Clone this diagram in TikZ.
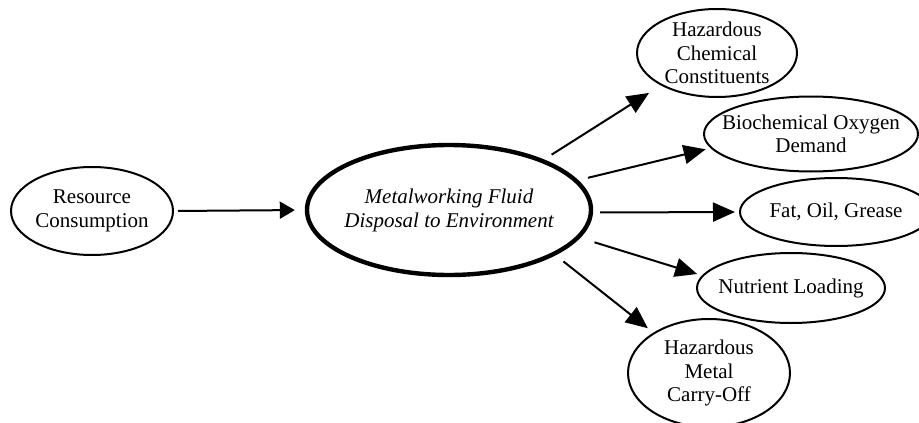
\documentclass[tikz,border=0pt]{standalone}
\usepackage{fontspec}
\setmainfont{Liberation Serif}
\usetikzlibrary{shapes.geometric,arrows.meta}
\begin{document}
\begin{tikzpicture}[x=1pt,y=-1pt,
  oval/.style={ellipse,draw,line width=2pt,inner xsep=-40pt,inner ysep=-20pt,align=center,
    font=\fontsize{21}{23.5}\selectfont},
  mainoval/.style={oval,line width=4.4pt,font=\fontsize{21}{24}\selectfont\itshape},
  arr/.style={line width=2pt,-{Triangle[length=22pt,width=19pt]}}]
\useasboundingbox (0,0) rectangle (919,423);
\node[oval,minimum width=162pt,minimum height=88pt] (res) at (92,211) {Resource\\Consumption};
\node[mainoval,minimum width=284pt,minimum height=130pt] (mwf) at (449,210) {Metalworking Fluid\\Disposal to Environment};
\node[oval,minimum width=160pt,minimum height=88pt] (hcc) at (717,53) {Hazardous\\Chemical\\Constituents};
\node[oval,minimum width=214pt,minimum height=75pt] (bod) at (811,134) {Biochemical Oxygen\\Demand};
\node[oval,minimum width=192pt,minimum height=68pt] (fog) at (836,212) {Fat, Oil, Grease};
\node[oval,minimum width=188pt,minimum height=70pt] (nut) at (791,288) {Nutrient Loading};
\node[oval,minimum width=162pt,minimum height=108pt] (hmc) at (709,373) {Hazardous\\Metal\\Carry-Off};
\draw[arr,-{Triangle[length=15pt,width=17pt]},shorten <=4pt,shorten >=10pt] (res.east) -- (mwf.west);
\draw[arr,shorten <=9pt,shorten >=14pt] (mwf.28.6) -- (hcc.210.8);
\draw[arr,shorten <=10pt,shorten >=5pt] (mwf.13) -- (bod.188.7);
\draw[arr,shorten <=7pt,shorten >=4pt] (mwf.-1.2) -- (fog.west);
\draw[arr,shorten <=15pt,shorten >=5pt] (mwf.-12.7) -- (nut.172.2);
\draw[arr,shorten <=10pt,shorten >=7pt] (mwf.-23.9) -- (hmc.144);
\end{tikzpicture}
\end{document}
